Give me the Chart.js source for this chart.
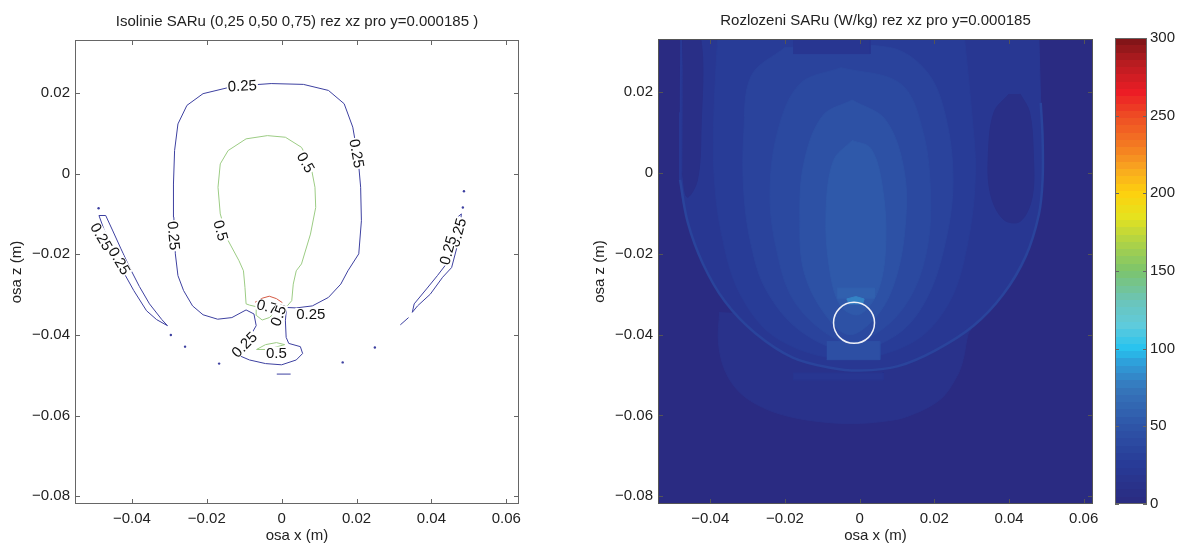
<!DOCTYPE html>
<html>
<head>
<meta charset="utf-8">
<script src="https://cdn.jsdelivr.net/npm/chart.js@4.4.1/dist/chart.umd.min.js"></script>
<style>
    body { margin: 0; background: #fff; width: 1179px; height: 545px; overflow: hidden; position: relative; }
    canvas { position: absolute; top: 0; }
</style>
</head>
<body>
<canvas id="isolinie" width="560" height="545" style="left:0"></canvas>
<canvas id="rozlozeni" width="530" height="545" style="left:590px"></canvas>
<canvas id="skala" width="79" height="545" style="left:1100px"></canvas>
<script>
// Osy
const xTicks = [-0.04, -0.02, 0, 0.02, 0.04, 0.06];
const zTicks = [-0.08, -0.06, -0.04, -0.02, 0, 0.02];
const skalaTicks = [0, 50, 100, 150, 200, 250, 300];

// Izolinie 0.25 (x, z)
const izo025Hlavni = [[-0.0143, 0.0213], [-0.0105, 0.0218], [-0.0028, 0.0223], [0.0058, 0.0221], [0.0125, 0.0206], [0.0167, 0.0173], [0.0190, 0.0115], [0.0204, 0.0040], [0.0211, -0.0034], [0.0213, -0.0117], [0.0206, -0.0199], [0.0177, -0.0241], [0.0158, -0.0274], [0.0125, -0.0307], [0.0082, -0.0328], [0.0039, -0.0333], [0.0013, -0.0332], [0.0010, -0.0365], [0.0012, -0.0406], [0.0019, -0.0421], [0.0050, -0.0429], [0.0056, -0.0446], [0.0039, -0.0462], [0.0000, -0.0474], [-0.0043, -0.0471], [-0.0086, -0.0462], [-0.0124, -0.0447], [-0.0086, -0.0406], [-0.0068, -0.0377], [-0.0074, -0.0348], [-0.0095, -0.0338], [-0.0133, -0.0357], [-0.0171, -0.0361], [-0.0210, -0.0350], [-0.0238, -0.0328], [-0.0262, -0.0290], [-0.0277, -0.0253], [-0.0284, -0.0199], [-0.0288, -0.0108], [-0.0289, -0.0026], [-0.0286, 0.0057], [-0.0277, 0.0123], [-0.0253, 0.0169], [-0.0210, 0.0198], [-0.0143, 0.0213]];
const izo025Levy = [[-0.0488, -0.0104], [-0.0474, -0.0140], [-0.0460, -0.0173], [-0.0443, -0.0207], [-0.0425, -0.0240], [-0.0395, -0.0290], [-0.0361, -0.0340], [-0.0334, -0.0362], [-0.0305, -0.0377], [-0.0320, -0.0362], [-0.0353, -0.0323], [-0.0380, -0.0280], [-0.0406, -0.0233], [-0.0430, -0.0185], [-0.0452, -0.0140], [-0.0470, -0.0104], [-0.0488, -0.0104]];
const izo025Pravy = [[0.0480, -0.0100], [0.0473, -0.0166], [0.0454, -0.0233], [0.0430, -0.0257], [0.0397, -0.0299], [0.0363, -0.0328], [0.0349, -0.0344], [0.0354, -0.0323], [0.0387, -0.0286], [0.0416, -0.0253], [0.0440, -0.0224], [0.0459, -0.0166], [0.0470, -0.0108], [0.0480, -0.0100]];
const izo025Usek = [[0.0317, -0.0375], [0.0339, -0.0357]];
const izo025Spodni = [[-0.0013, -0.0497], [0.0024, -0.0497]];
const izo025Body = [[-0.0489, -0.0086], [0.0487, -0.0044], [0.0484, -0.0084], [-0.0296, -0.0400], [-0.0258, -0.0429], [-0.0167, -0.0471], [0.0163, -0.0468], [0.0249, -0.0431]];

// Izolinie 0.5 a 0.75
const izo05Hlavni = [[-0.0038, 0.0094], [0.0010, 0.0090], [0.0053, 0.0065], [0.0077, 0.0024], [0.0089, -0.0034], [0.0091, -0.0084], [0.0077, -0.0150], [0.0053, -0.0224], [0.0039, -0.0241], [0.0031, -0.0274], [0.0027, -0.0315], [0.0015, -0.0328], [-0.0009, -0.0338], [-0.0033, -0.0357], [-0.0052, -0.0363], [-0.0067, -0.0352], [-0.0068, -0.0330], [-0.0086, -0.0326], [-0.0095, -0.0323], [-0.0098, -0.0282], [-0.0102, -0.0241], [-0.0114, -0.0216], [-0.0143, -0.0166], [-0.0164, -0.0100], [-0.0170, -0.0034], [-0.0164, 0.0024], [-0.0143, 0.0057], [-0.0095, 0.0086], [-0.0038, 0.0094]];
const izo05Dolni = [[-0.0067, -0.0436], [-0.0043, -0.0424], [-0.0014, -0.0419], [0.0008, -0.0424], [-0.0019, -0.0431], [-0.0043, -0.0436], [-0.0067, -0.0436]];
const izo075 = [[-0.0071, -0.0319], [-0.0052, -0.0309], [-0.0033, -0.0304], [-0.0014, -0.0310], [0.0002, -0.0320]];

// Popisky izolinii
const popiskyText = ['0.25', '0.25', '0.5', '0.25', '0.5', '0.25', '0.25', '0.25', '0.25', '0.75', '0.5', '0.25', '0.25', '0.5'];
const popiskyX = [-0.0105, 0.0201, 0.0065, -0.0288, -0.0162, -0.0481, -0.0433, 0.0470, 0.0444, -0.0028, -0.0009, 0.0078, -0.0100, -0.0014];
const popiskyZ = [0.0218, 0.0050, 0.0028, -0.0154, -0.0141, -0.0156, -0.0216, -0.0146, -0.0190, -0.0332, -0.0352, -0.0348, -0.0424, -0.0444];
const popiskyUhel = [-3, 80, 60, 85, 75, 60, 60, -75, -75, 15, -70, 0, -45, 0];

// Rozlozeni SAR (W/kg) - oblasti a jejich hodnoty
const pozadi = [[-0.06, -0.09], [0.07, -0.09], [0.07, 0.04], [-0.06, 0.04]];
const vydut = [[-0.0375, -0.0344], [-0.0378, -0.0420], [-0.0360, -0.0490], [-0.0320, -0.0544], [-0.0260, -0.0580], [-0.0187, -0.0603], [-0.0100, -0.0616], [-0.0018, -0.0620], [0.0060, -0.0615], [0.0126, -0.0603], [0.0215, -0.0561], [0.0260, -0.0504], [0.0277, -0.0462], [0.0290, -0.0400], [0.0300, -0.0385]];
const prstenec = [[-0.0481, -0.0017], [-0.0461, -0.0120], [-0.0420, -0.0224], [-0.0360, -0.0319], [-0.0280, -0.0396], [-0.0179, -0.0457], [-0.0078, -0.0482], [0.0002, -0.0489], [0.0103, -0.0478], [0.0203, -0.0439], [0.0304, -0.0379], [0.0384, -0.0301], [0.0445, -0.0206], [0.0480, -0.0103], [0.0490, -0.0017], [0.0490, 0.0087], [0.0485, 0.0173]];
const prstenecHorni = [[-0.0478, 0.0340], [-0.0479, 0.0150], [-0.0481, -0.0017]];
const misa = [[-0.0472, 0.0340], [-0.0478, 0.0100], ...prstenec, [0.0480, 0.0340]];
const levyTmavy = [[-0.0473, 0.0340], [-0.0427, 0.0340], [-0.0425, 0.0100], [-0.0435, -0.0020], [-0.0462, -0.0060], [-0.0475, 0.0000]];
const pravyTmavy = [[0.0400, 0.0195], [0.0360, 0.0150], [0.0345, 0.0050], [0.0350, -0.0050], [0.0385, -0.0115], [0.0430, -0.0120], [0.0462, -0.0060], [0.0465, 0.0050], [0.0455, 0.0150], [0.0430, 0.0195]];
const horniZarez = [[-0.0178, 0.0340], [0.0028, 0.0340], [0.0028, 0.0295], [-0.0178, 0.0295]];
const ovalA = [[-0.0380, 0.0340], [-0.0390, 0.0150], [-0.0390, 0.0000], [-0.0370, -0.0150], [-0.0320, -0.0300], [-0.0220, -0.0410], [-0.0040, -0.0460], [0.0140, -0.0420], [0.0240, -0.0320], [0.0290, -0.0170], [0.0310, 0.0000], [0.0300, 0.0150], [0.0280, 0.0340]];
const ovalB = [[-0.0200, 0.0310], [-0.0290, 0.0240], [-0.0310, 0.0100], [-0.0310, -0.0050], [-0.0290, -0.0180], [-0.0250, -0.0290], [-0.0160, -0.0390], [-0.0030, -0.0440], [0.0100, -0.0400], [0.0180, -0.0310], [0.0230, -0.0170], [0.0250, -0.0020], [0.0230, 0.0140], [0.0180, 0.0250], [0.0080, 0.0310], [-0.0200, 0.0310]];
const ovalC = [[-0.0050, 0.0260], [-0.0160, 0.0220], [-0.0220, 0.0100], [-0.0240, -0.0060], [-0.0220, -0.0200], [-0.0180, -0.0310], [-0.0100, -0.0390], [-0.0020, -0.0420], [0.0070, -0.0380], [0.0140, -0.0300], [0.0180, -0.0190], [0.0190, -0.0060], [0.0170, 0.0100], [0.0110, 0.0220], [-0.0050, 0.0260]];
const ovalD = [[-0.0020, 0.0180], [-0.0100, 0.0140], [-0.0150, 0.0020], [-0.0160, -0.0120], [-0.0150, -0.0240], [-0.0100, -0.0340], [-0.0030, -0.0400], [0.0040, -0.0360], [0.0090, -0.0280], [0.0120, -0.0150], [0.0120, 0.0000], [0.0070, 0.0130], [-0.0020, 0.0180]];
const ovalE = [[-0.0020, 0.0080], [-0.0070, 0.0030], [-0.0090, -0.0100], [-0.0080, -0.0240], [-0.0050, -0.0330], [0.0000, -0.0350], [0.0050, -0.0290], [0.0070, -0.0170], [0.0060, -0.0030], [0.0030, 0.0060], [-0.0020, 0.0080]];
const podKruhem = [[-0.0088, -0.0417], [0.0054, -0.0417], [0.0054, -0.0462], [-0.0088, -0.0462]];
const nadKruhem = [[-0.0060, -0.0285], [0.0040, -0.0285], [0.0040, -0.0310], [-0.0060, -0.0310]];
const zar = [[-0.0035, -0.0312], [-0.0010, -0.0306], [0.0012, -0.0312], [0.0008, -0.0324], [-0.0030, -0.0324]];
const pasPodPrstencem = [[-0.0178, -0.0495], [0.0063, -0.0495], [0.0063, -0.0512], [-0.0178, -0.0512]];

const oblasti = [pozadi, vydut, misa, levyTmavy, pravyTmavy, ovalA, ovalB, horniZarez, ovalC, ovalD, ovalE, podKruhem, nadKruhem, zar, pasPodPrstencem];
const hodnotySAR = [2, 12, 21, 8, 8, 27, 33, 19, 39, 46, 53, 44, 58, 80, 19];
const hodnotaPrstence = 34;
const hodnotaPrstenceHorni = 24;
const kruhStred = [{x: -0.0015, y: -0.0371}];

// Barevna skala (odectena z legendy obrazku)
const skalaHodnoty = [0, 25, 50, 75, 90, 100, 115, 130, 150, 170, 185, 200, 215, 230, 250, 265, 285, 300];
const skalaBarvy = ['#2a2a80', '#283a96', '#2e55a8', '#3677bb', '#2f9cd8', '#27c3ef', '#5fcbdc', '#6bc4bb', '#7cc46c', '#b3d443', '#e6e21e', '#fdd10e', '#f9a91f', '#f47c22', '#ee4b24', '#ec1d25', '#b41c20', '#7a1416'];

const hexNaRgb = h => [1, 3, 5].map(i => parseInt(h.slice(i, i + 2), 16));
const barvaProHodnotu = v => {
    let i = 0;
    while (i < skalaHodnoty.length - 2 && v > skalaHodnoty[i + 1]) i++;
    const t = Math.max(0, Math.min(1, (v - skalaHodnoty[i]) / (skalaHodnoty[i + 1] - skalaHodnoty[i])));
    const a = hexNaRgb(skalaBarvy[i]), b = hexNaRgb(skalaBarvy[i + 1]);
    const c = a.map((x, k) => Math.round(x + (b[k] - x) * t));
    return `rgb(${c[0]}, ${c[1]}, ${c[2]})`;
};

Chart.defaults.font.family = '"Liberation Sans", Arial, Helvetica, sans-serif';
Chart.defaults.font.size = 15;
Chart.defaults.color = '#222';

const formatTick = v => v === 0 ? '0' : (v < 0 ? '\u2212' : '') + Math.abs(v).toFixed(2);
const naBody = pole => pole.map(([x, z]) => ({x, y: z}));

// ramecek grafu s vnitrnimi carkami
const ramecekPlugin = {
    id: 'ramecek',
    afterDatasetsDraw(chart, args, opts) {
        const {ctx, chartArea: a} = chart;
        const d = opts.delka || 5;
        ctx.save();
        ctx.strokeStyle = opts.barva || '#666';
        ctx.lineWidth = 1;
        ctx.beginPath();
        const sx = chart.scales.x;
        if (sx && sx.options.display) {
            sx.ticks.forEach(t => {
                const px = Math.round(sx.getPixelForValue(t.value)) + 0.5;
                ctx.moveTo(px, a.bottom); ctx.lineTo(px, a.bottom - d);
                ctx.moveTo(px, a.top); ctx.lineTo(px, a.top + d);
            });
        }
        const sy = chart.scales.y;
        sy.ticks.forEach(t => {
            const py = Math.round(sy.getPixelForValue(t.value)) + 0.5;
            ctx.moveTo(a.left, py); ctx.lineTo(a.left + d, py);
            ctx.moveTo(a.right, py); ctx.lineTo(a.right - d, py);
        });
        ctx.stroke();
        ctx.strokeRect(Math.round(a.left) + 0.5, Math.round(a.top) + 0.5, Math.round(a.width) - 1, Math.round(a.height) - 1);
        ctx.restore();
    }
};

// popisky izolinii
const popiskyPlugin = {
    id: 'popisky',
    afterDatasetsDraw(chart) {
        const {ctx, scales: {x, y}} = chart;
        ctx.save();
        ctx.font = '15px "Liberation Sans", Arial, sans-serif';
        ctx.textAlign = 'center';
        ctx.textBaseline = 'middle';
        popiskyText.forEach((text, i) => {
            ctx.save();
            ctx.translate(x.getPixelForValue(popiskyX[i]), y.getPixelForValue(popiskyZ[i]));
            ctx.rotate(popiskyUhel[i] * Math.PI / 180);
            const w = ctx.measureText(text).width;
            ctx.fillStyle = '#fff';
            ctx.fillRect(-w / 2 - 1, -6, w + 2, 12);
            ctx.fillStyle = '#111';
            ctx.fillText(text, 0, 1);
            ctx.restore();
        });
        ctx.restore();
    }
};

const osaX = (min, max) => ({
    type: 'linear', min, max,
    afterBuildTicks: s => { s.ticks = xTicks.map(v => ({value: v})); },
    afterFit: s => { s.height = 41; },
    grid: {display: false, drawTicks: false},
    border: {display: false},
    ticks: {callback: formatTick, padding: 6, maxRotation: 0, autoSkip: false},
    title: {display: true, text: 'osa x (m)', padding: {top: 0, bottom: 0}}
});

const osaZ = (sirka, odsazeni, titulek) => ({
    type: 'linear', min: -0.0819, max: 0.0331,
    afterBuildTicks: s => { s.ticks = zTicks.map(v => ({value: v})); },
    afterFit: s => { s.width = sirka; },
    grid: {display: false, drawTicks: false},
    border: {display: false},
    ticks: {callback: formatTick, padding: odsazeni, autoSkip: false},
    title: {display: true, text: 'osa z (m)', padding: {top: titulek, bottom: 0}}
});

const cara = (pole, barva) => ({
    data: naBody(pole), showLine: true, fill: false, borderColor: barva,
    borderWidth: 1, pointRadius: 0, clip: 0
});

const MODRA = '#3d40a0';
const ZELENA = '#9ccc84';
const CERVENA = '#d45a44';

new Chart(document.getElementById('isolinie'), {
    type: 'scatter',
    data: {
        datasets: [
            cara(izo025Hlavni, MODRA),
            cara(izo025Levy, MODRA),
            cara(izo025Pravy, MODRA),
            cara(izo025Usek, MODRA),
            cara(izo025Spodni, MODRA),
            cara(izo05Hlavni, ZELENA),
            cara(izo05Dolni, ZELENA),
            cara(izo075, CERVENA),
            {data: naBody(izo025Body), showLine: false, pointRadius: 1.2, pointBorderWidth: 0, backgroundColor: MODRA}
        ]
    },
    options: {
        responsive: false,
        animation: false,
        layout: {padding: {left: 0, right: 41, top: 0, bottom: 0}},
        scales: {x: osaX(-0.0552, 0.0634), y: osaZ(75, 5, 8)},
        plugins: {
            legend: {display: false},
            tooltip: {enabled: false},
            title: {
                display: true, fullSize: false,
                text: 'Isolinie SARu (0,25 0,50 0,75) rez xz pro y=0.000185 )',
                font: {size: 15, weight: 'normal'}, color: '#222',
                padding: {top: 13, bottom: 9}
            },
            ramecek: {barva: '#666', delka: 5}
        }
    },
    plugins: [ramecekPlugin, popiskyPlugin]
});

// mapa SAR - zaoblene oblasti (vice nez 5 bodu), obdelniky ostre
const plochy = oblasti.map((pole, i) => ({
    data: naBody(pole), showLine: true, fill: 'shape',
    backgroundColor: barvaProHodnotu(hodnotySAR[i]), borderColor: barvaProHodnotu(hodnotySAR[i]),
    borderWidth: 1, pointRadius: 0, clip: 0, order: 100 - i,
    tension: pole.length > 5 ? 0.35 : 0
}));

new Chart(document.getElementById('rozlozeni'), {
    type: 'scatter',
    data: {
        datasets: [
            ...plochy,
            {data: naBody(prstenecHorni), showLine: true, fill: false, borderColor: barvaProHodnotu(hodnotaPrstenceHorni), borderWidth: 2, pointRadius: 0, clip: 0, order: 50},
            {data: naBody(prstenec), showLine: true, fill: false, borderColor: barvaProHodnotu(hodnotaPrstence), borderWidth: 2.5, pointRadius: 0, clip: 0, order: 49, tension: 0.35},
            {data: kruhStred, showLine: false, pointRadius: 20.5, pointBorderWidth: 1.5, pointBorderColor: '#eef0f8', pointBackgroundColor: 'rgba(0,0,0,0)', clip: 0, order: 1}
        ]
    },
    options: {
        responsive: false,
        animation: false,
        layout: {padding: {left: 0, right: 27, top: 0, bottom: 0}},
        scales: {x: osaX(-0.0540, 0.0625), y: osaZ(68, 5, 1)},
        plugins: {
            legend: {display: false},
            tooltip: {enabled: false},
            title: {
                display: true, fullSize: false,
                text: 'Rozlozeni SARu (W/kg) rez xz pro y=0.000185',
                font: {size: 15, weight: 'normal'}, color: '#222',
                padding: {top: 12, bottom: 9}
            },
            ramecek: {barva: '#555', delka: 5}
        }
    },
    plugins: [ramecekPlugin]
});

// barevna legenda (64 urovni)
const gradientSkaly = (ctx, area) => {
    const g = ctx.createLinearGradient(0, area.bottom, 0, area.top);
    const n = 64;
    for (let k = 0; k < n; k++) {
        const barva = barvaProHodnotu((k + 0.5) * 300 / n);
        g.addColorStop(k / n, barva);
        g.addColorStop((k + 1) / n, barva);
    }
    return g;
};

new Chart(document.getElementById('skala'), {
    type: 'bar',
    data: {
        labels: ['SAR'],
        datasets: [{
            data: [[0, 300]],
            backgroundColor: c => {
                const {ctx, chartArea} = c.chart;
                if (!chartArea) return null;
                return gradientSkaly(ctx, chartArea);
            },
            borderWidth: 0, barPercentage: 1, categoryPercentage: 1
        }]
    },
    options: {
        responsive: false,
        animation: false,
        layout: {padding: {left: 15, right: 0, top: 38, bottom: 41}},
        scales: {
            x: {display: false},
            y: {
                position: 'right', min: 0, max: 300,
                afterBuildTicks: s => { s.ticks = skalaTicks.map(v => ({value: v})); },
                afterFit: s => { s.width = 32; },
                grid: {display: false, drawTicks: false},
                border: {display: false},
                ticks: {padding: 3, autoSkip: false}
            }
        },
        plugins: {
            legend: {display: false},
            tooltip: {enabled: false},
            ramecek: {barva: '#666', delka: 4}
        }
    },
    plugins: [ramecekPlugin]
});
</script>
</body>
</html>
